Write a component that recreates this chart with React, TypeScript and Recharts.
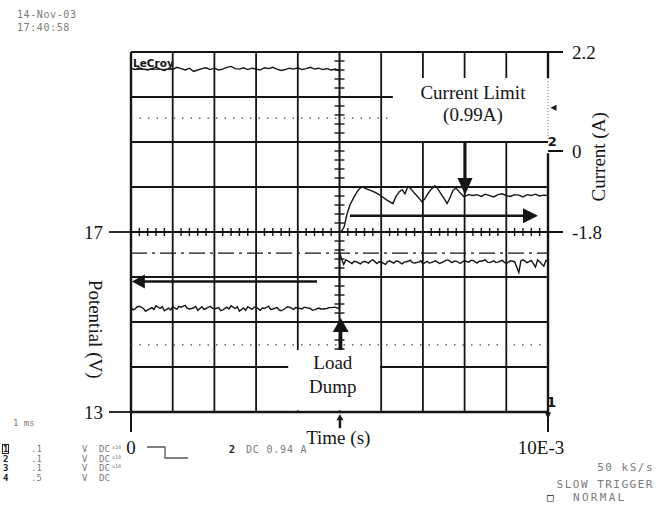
import React from 'react';
import { ComposedChart, Line, XAxis, YAxis, ReferenceLine, ReferenceArea, ReferenceDot } from 'recharts';

// ---- axes / ticks ----
const timeTicks = [0, 10];
const timeTickLabels: Record<number, string> = { 0: '0', 10: '10E-3' };
const voltTicks = [13, 17];
const ampTicks = [2.2, 0, -1.8];
const gridTimes = [1, 2, 3, 4, 6, 7, 8, 9];
const gridVolts = [14, 15, 16, 18, 19, 20];
const minorTimes = [0.2,0.4,0.6,0.8,1.2,1.4,1.6,1.8,2.2,2.4,2.6,2.8,3.2,3.4,3.6,3.8,4.2,4.4,4.6,4.8,5.2,5.4,5.6,5.8,6.2,6.4,6.6,6.8,7.2,7.4,7.6,7.8,8.2,8.4,8.6,8.8,9.2,9.4,9.6,9.8];
const minorVolts = [13.2,13.4,13.6,13.8,14.2,14.4,14.6,14.8,15.2,15.4,15.6,15.8,16.2,16.4,16.6,16.8,17.2,17.4,17.6,17.8,18.2,18.4,18.6,18.8,19.2,19.4,19.6,19.8,20.2,20.4,20.6,20.8];

// ---- traces (time in ms, potential in V, current in A) ----
const upperTrace: [number, number][] = [[0,20.64],[0.1,20.61],[0.2,20.65],[0.3,20.62],[0.4,20.6],[0.5,20.63],[0.6,20.66],[0.7,20.62],[0.8,20.59],[0.9,20.63],[1.0,20.61],[1.1,20.66],[1.2,20.63],[1.3,20.6],[1.4,20.64],[1.5,20.57],[1.6,20.6],[1.7,20.63],[1.8,20.65],[1.9,20.61],[2.0,20.64],[2.1,20.6],[2.2,20.62],[2.3,20.66],[2.4,20.68],[2.5,20.63],[2.6,20.62],[2.7,20.65],[2.8,20.61],[2.9,20.64],[3.0,20.62],[3.1,20.6],[3.2,20.65],[3.3,20.63],[3.4,20.66],[3.5,20.62],[3.6,20.59],[3.7,20.61],[3.8,20.64],[3.9,20.62],[4.0,20.65],[4.1,20.61],[4.2,20.63],[4.3,20.66],[4.4,20.62],[4.5,20.64],[4.6,20.61],[4.7,20.63],[4.8,20.6],[4.9,20.62],[5.0,20.58]];

const voltageBefore: [number, number][] = [[0,15.33],[0.05,15.27],[0.1,15.29],[0.15,15.34],[0.2,15.35],[0.3,15.3],[0.35,15.24],[0.4,15.27],[0.5,15.32],[0.55,15.28],[0.6,15.36],[0.7,15.3],[0.75,15.34],[0.8,15.25],[0.9,15.31],[0.95,15.27],[1.0,15.34],[1.1,15.28],[1.15,15.35],[1.2,15.33],[1.3,15.37],[1.35,15.3],[1.4,15.29],[1.5,15.31],[1.55,15.35],[1.6,15.26],[1.7,15.34],[1.75,15.28],[1.8,15.3],[1.9,15.35],[1.95,15.31],[2.0,15.29],[2.1,15.32],[2.15,15.25],[2.2,15.27],[2.3,15.33],[2.35,15.29],[2.4,15.36],[2.5,15.3],[2.55,15.34],[2.6,15.24],[2.7,15.31],[2.75,15.26],[2.8,15.34],[2.9,15.28],[2.95,15.33],[3.0,15.33],[3.1,15.26],[3.15,15.31],[3.2,15.3],[3.3,15.35],[3.35,15.28],[3.4,15.29],[3.5,15.32],[3.55,15.27],[3.6,15.25],[3.7,15.3],[3.75,15.34],[3.8,15.33],[3.9,15.28],[3.95,15.32],[4.0,15.31],[4.1,15.29],[4.15,15.33],[4.2,15.32],[4.3,15.3],[4.35,15.26],[4.4,15.27],[4.5,15.31],[4.55,15.29],[4.6,15.29],[4.7,15.3],[4.75,15.32],[4.8,15.32],[4.9,15.33],[4.95,15.31],[5.0,15.3]];

const voltageAfter: [number, number][] = [[5.0,16.55],[5.05,16.4],[5.1,16.28],[5.15,16.38],[5.2,16.36],[5.3,16.3],[5.35,16.35],[5.4,16.34],[5.5,16.29],[5.55,16.33],[5.6,16.35],[5.7,16.31],[5.75,16.36],[5.8,16.38],[5.9,16.3],[5.95,16.34],[6.0,16.33],[6.1,16.28],[6.15,16.34],[6.2,16.36],[6.3,16.31],[6.35,16.35],[6.4,16.35],[6.5,16.29],[6.55,16.33],[6.6,16.34],[6.7,16.37],[6.75,16.32],[6.8,16.31],[6.9,16.33],[6.95,16.36],[7.0,16.29],[7.1,16.35],[7.15,16.31],[7.2,16.32],[7.3,16.36],[7.35,16.33],[7.4,16.3],[7.5,16.34],[7.55,16.37],[7.6,16.38],[7.7,16.32],[7.75,16.35],[7.8,16.35],[7.9,16.3],[7.95,16.34],[8.0,16.36],[8.1,16.33],[8.15,16.37],[8.2,16.37],[8.3,16.31],[8.35,16.35],[8.4,16.35],[8.5,16.38],[8.55,16.33],[8.6,16.32],[8.7,16.36],[8.75,16.32],[8.8,16.33],[8.9,16.37],[8.95,16.33],[9.0,16.3],[9.1,16.36],[9.2,16.34],[9.3,16.1],[9.35,16.36],[9.4,16.38],[9.5,16.32],[9.6,16.37],[9.7,16.22],[9.75,16.38],[9.8,16.34],[9.9,16.24],[9.95,16.37],[10,16.35]];

const currentAfter: [number, number][] = [[5.02,-1.82],[5.11,-1.69],[5.18,-1.4],[5.25,-1.2],[5.35,-1.02],[5.44,-0.88],[5.54,-0.79],[5.64,-0.84],[5.76,-0.88],[5.88,-0.93],[6.0,-1.0],[6.12,-1.08],[6.21,-1.13],[6.28,-1.17],[6.35,-1.02],[6.43,-0.91],[6.5,-0.86],[6.57,-0.95],[6.64,-0.79],[6.71,-0.84],[6.79,-0.93],[6.88,-1.02],[6.98,-1.13],[7.05,-1.06],[7.12,-0.95],[7.19,-0.86],[7.29,-0.77],[7.36,-0.84],[7.43,-0.95],[7.51,-1.06],[7.58,-1.17],[7.65,-1.04],[7.72,-0.88],[7.79,-0.82],[7.89,-0.93],[7.99,-1.02],[8.08,-0.97],[8.2,-0.99],[8.3,-0.97],[8.4,-1.01],[8.5,-0.96],[8.6,-0.99],[8.7,-1.02],[8.8,-0.97],[8.9,-0.95],[9.0,-0.99],[9.1,-1.01],[9.2,-0.97],[9.3,-0.98],[9.4,-1.02],[9.5,-0.97],[9.6,-0.99],[9.7,-0.96],[9.8,-1.0],[9.9,-0.98],[10,-0.99]];

// reference levels
const dashDotLevel = 16.53;
const dottedLevels = [19.53, 14.49];

// scope readout texts
const channelIds = ['1', '2', '3', '4'];
const channelScales = ['.1', '.1', '.1', '.5'];
const channelUnits = ['V', 'V', 'V', 'V'];
const channelCouplings = ['DC', 'DC', 'DC', 'DC'];
const channelProbes = ['x10', 'x10', 'x10', ''];

const upperData = upperTrace.map(([t, v]) => ({ t, v }));
const voltageData = [...voltageBefore, ...voltageAfter].map(([t, v]) => ({ t, v }));
const currentData = currentAfter.map(([t, a]) => ({ t, a }));

const INK = '#151515';
const GRID_W = 1.8;
const SERIF = '"Liberation Serif", "Times New Roman", serif';
const PIX: React.CSSProperties = { position: 'absolute', fontFamily: '"DejaVu Sans Mono", monospace', fontSize: 10, color: '#7a7a7a', lineHeight: '10px', whiteSpace: 'pre', letterSpacing: 0.6 };
const ROW: React.CSSProperties = { ...PIX, fontSize: 9, lineHeight: '9px', letterSpacing: 0 };
const ROW_STEP = 9.5;

const textShape = (label: string, opts: { size?: number; rotate?: number; anchor?: string; bold?: boolean; family?: string; dx?: number; underline?: boolean } = {}) =>
  (p: any) => {
    const x = p.cx + (opts.dx || 0);
    const y = p.cy;
    return (
      <text x={x} y={y} textAnchor={(opts.anchor as any) || 'middle'} dominantBaseline="central"
        fontFamily={opts.family || SERIF} fontSize={opts.size || 19} fontWeight={opts.bold ? 700 : 400}
        textDecoration={opts.underline ? 'underline' : undefined}
        fill={INK} transform={opts.rotate ? `rotate(${opts.rotate} ${x} ${y})` : undefined}>{label}</text>
    );
  };

const head = (dir: 'up' | 'down' | 'left' | 'right', len: number, half: number) => (p: any) => {
  const { cx, cy } = p;
  let pts = '';
  if (dir === 'right') pts = `${cx},${cy} ${cx - len},${cy - half} ${cx - len},${cy + half}`;
  if (dir === 'left') pts = `${cx},${cy} ${cx + len},${cy - half} ${cx + len},${cy + half}`;
  if (dir === 'down') pts = `${cx},${cy} ${cx - half},${cy - len} ${cx + half},${cy - len}`;
  if (dir === 'up') pts = `${cx},${cy} ${cx - half},${cy + len} ${cx + half},${cy + len}`;
  return <polygon points={pts} fill={INK} />;
};

const hTick = (p: any) => <line x1={p.cx - 5} x2={p.cx + 5} y1={p.cy} y2={p.cy} stroke={INK} strokeWidth={1.4} />;
const vTick = (p: any) => <line x1={p.cx} x2={p.cx} y1={p.cy - 4} y2={p.cy + 4} stroke={INK} strokeWidth={1.4} />;

const XTick = (p: any) => {
  const v = p.payload.value;
  return (
    <text x={p.x + (v === 10 ? -7 : 0)} y={p.y} dy="0.71em" textAnchor="middle" fontFamily={SERIF} fontSize={19} fill={INK}>
      {timeTickLabels[v]}
    </text>
  );
};

export default function App() {
  return (
    <div style={{ position: 'absolute', left: 0, top: 0, width: 667, height: 505, background: '#fff' }}>
      <ComposedChart width={667} height={505} margin={{ top: 52, right: 59, bottom: 43, left: 81 }}>
        <XAxis dataKey="t" type="number" domain={[0, 10]} ticks={timeTicks} allowDataOverflow
          axisLine={false} tickSize={20} tickMargin={9} height={50}
          tickLine={{ stroke: INK, strokeWidth: 2 }} tick={XTick} />
        <YAxis yAxisId="v" type="number" domain={[13, 21]} ticks={voltTicks} allowDataOverflow
          axisLine={false} tickSize={22} tickMargin={6} width={50}
          tickLine={{ stroke: INK, strokeWidth: 1.8 }} tick={{ fontFamily: SERIF, fontSize: 19, fill: INK }} />
        <YAxis yAxisId="a" orientation="right" type="number" domain={[-5.8, 2.2]} ticks={ampTicks} allowDataOverflow
          axisLine={false} tickSize={15} tickMargin={9} width={60}
          tickLine={{ stroke: INK, strokeWidth: 2 }} tick={{ fontFamily: SERIF, fontSize: 19, fill: INK }} />

        {/* grid */}
        {gridTimes.map((t) => (
          <ReferenceLine key={'gt' + t} yAxisId="v" x={t} stroke={INK} strokeWidth={GRID_W} zIndex={10} />
        ))}
        {gridVolts.map((v) => (
          <ReferenceLine key={'gv' + v} yAxisId="v" y={v} stroke={INK} strokeWidth={GRID_W} zIndex={10} />
        ))}
        <ReferenceLine yAxisId="v" x={0} stroke={INK} strokeWidth={2.4} zIndex={10} />
        <ReferenceLine yAxisId="v" y={21} stroke={INK} strokeWidth={2.2} zIndex={10} />
        <ReferenceLine yAxisId="v" y={13} stroke={INK} strokeWidth={2.4} zIndex={10} />
        <ReferenceLine yAxisId="v" x={5} stroke={INK} strokeWidth={2} zIndex={10} />
        <ReferenceLine yAxisId="v" y={17} stroke={INK} strokeWidth={2} zIndex={10} />
        <ReferenceLine yAxisId="v" ifOverflow="visible" segment={[{ x: 10, y: 21 }, { x: 10, y: 20.42 }]} stroke={INK} strokeWidth={2.4} zIndex={10} />
        <ReferenceLine yAxisId="v" ifOverflow="visible" segment={[{ x: 10, y: 20.42 }, { x: 10, y: 19.02 }]} stroke="#666" strokeWidth={1} strokeDasharray="1 2" zIndex={30} />
        <ReferenceLine yAxisId="v" ifOverflow="visible" segment={[{ x: 10, y: 18.75 }, { x: 10, y: 13 }]} stroke={INK} strokeWidth={2.4} zIndex={10} />
        {minorVolts.map((v) => (
          <ReferenceDot key={'mv' + v} yAxisId="v" x={5} y={v} r={1} shape={hTick} zIndex={11} />
        ))}
        {minorTimes.map((t) => (
          <ReferenceDot key={'mt' + t} yAxisId="v" x={t} y={17} r={1} shape={vTick} zIndex={11} />
        ))}
        {dottedLevels.map((v) => (
          <ReferenceLine key={'dl' + v} yAxisId="v" y={v} stroke="#444" strokeWidth={1.2} strokeDasharray="1.5 7" zIndex={12} />
        ))}
        <ReferenceLine yAxisId="v" y={dashDotLevel} stroke={INK} strokeWidth={1.3} strokeDasharray="16 5 3 5" zIndex={12} />

        {/* annotation boxes */}
        <ReferenceArea yAxisId="v" x1={6.28} x2={10} y1={19.02} y2={20.42} fill="#fff" fillOpacity={1} stroke="none" zIndex={20} />
        <ReferenceArea yAxisId="v" x1={3.77} x2={5.97} y1={13.04} y2={14.38} fill="#fff" fillOpacity={1} stroke="none" zIndex={20} />

        <ReferenceDot yAxisId="v" x={8.2} y={20.09} r={1} ifOverflow="visible" shape={textShape('Current Limit')} zIndex={40} />
        <ReferenceDot yAxisId="v" x={8.2} y={19.62} r={1} ifOverflow="visible" shape={textShape('(0.99A)')} zIndex={40} />
        <ReferenceDot yAxisId="v" x={4.84} y={14.09} r={1} ifOverflow="visible" shape={textShape('Load', { size: 19 })} zIndex={40} />
        <ReferenceDot yAxisId="v" x={4.84} y={13.56} r={1} ifOverflow="visible" shape={textShape('Dump', { size: 19 })} zIndex={40} />
        <ReferenceDot yAxisId="v" x={4.97} y={12.44} r={1} ifOverflow="visible" shape={textShape('Time (s)', { size: 19 })} zIndex={40} />
        <ReferenceDot yAxisId="v" x={-0.86} y={14.84} r={1} ifOverflow="visible" shape={textShape('Potential (V)', { size: 19, rotate: 90 })} zIndex={40} />
        <ReferenceDot yAxisId="v" x={11.2} y={18.67} r={1} ifOverflow="visible" shape={textShape('Current (A)', { size: 19, rotate: -90 })} zIndex={40} />
        <ReferenceDot yAxisId="v" x={0} y={20.76} r={1} ifOverflow="visible" shape={textShape('LeCroy', { size: 10.5, bold: true, anchor: 'start', dx: 2, family: '"DejaVu Sans", sans-serif', underline: true })} zIndex={40} />
        <ReferenceDot yAxisId="v" x={10.1} y={19.02} r={1} ifOverflow="visible" shape={textShape('2', { size: 13, bold: true, family: '"DejaVu Sans", sans-serif' })} zIndex={40} />
        <ReferenceDot yAxisId="v" x={10.08} y={13.22} r={1} ifOverflow="visible" shape={textShape('1', { size: 14, bold: true, family: '"DejaVu Sans", sans-serif' })} zIndex={40} />
        <ReferenceDot yAxisId="v" x={10.06} y={19.76} r={1} ifOverflow="visible" shape={head('left', 6, 3)} zIndex={40} />
        <ReferenceDot yAxisId="v" x={10.0} y={12.84} r={1} ifOverflow="visible" shape={head('down', 7, 3)} zIndex={40} />

        {/* arrows */}
        <ReferenceLine yAxisId="v" segment={[{ x: 5.25, y: 17.36 }, { x: 9.45, y: 17.36 }]} stroke={INK} strokeWidth={2.6} zIndex={40} />
        <ReferenceDot yAxisId="v" x={9.76} y={17.36} r={1} shape={head('right', 15, 7.5)} zIndex={40} />
        <ReferenceLine yAxisId="v" segment={[{ x: 0.25, y: 15.9 }, { x: 4.46, y: 15.9 }]} stroke={INK} strokeWidth={2.6} zIndex={40} />
        <ReferenceDot yAxisId="v" x={0.02} y={15.9} r={1} shape={head('left', 13, 7)} zIndex={40} />
        <ReferenceLine yAxisId="v" segment={[{ x: 8.01, y: 19.0 }, { x: 8.01, y: 18.15 }]} stroke={INK} strokeWidth={3} zIndex={40} />
        <ReferenceDot yAxisId="v" x={8.01} y={17.82} r={1} shape={head('down', 17, 7.5)} zIndex={40} />
        <ReferenceLine yAxisId="v" segment={[{ x: 5.03, y: 14.38 }, { x: 5.03, y: 14.85 }]} stroke={INK} strokeWidth={3.2} zIndex={40} />
        <ReferenceDot yAxisId="v" x={5.03} y={15.09} r={1} shape={head('up', 14, 8)} zIndex={40} />
        <ReferenceLine yAxisId="v" ifOverflow="visible" segment={[{ x: 5.01, y: 12.64 }, { x: 5.01, y: 12.85 }]} stroke={INK} strokeWidth={2.4} zIndex={40} />
        <ReferenceDot yAxisId="v" x={5.01} y={12.95} r={1} ifOverflow="visible" shape={head('up', 6, 3.5)} zIndex={40} />

        {/* traces */}
        <Line yAxisId="v" data={upperData} dataKey="v" type="linear" stroke={INK} strokeWidth={1.4} dot={false} activeDot={false} isAnimationActive={false} zIndex={50} />
        <Line yAxisId="v" data={voltageData} dataKey="v" type="linear" stroke={INK} strokeWidth={1.4} dot={false} activeDot={false} isAnimationActive={false} zIndex={50} />
        <Line yAxisId="a" data={currentData} dataKey="a" type="linear" stroke={INK} strokeWidth={1.4} dot={false} activeDot={false} isAnimationActive={false} zIndex={50} />
      </ComposedChart>

      {/* oscilloscope readout */}
      <div style={{ ...PIX, left: 17, top: 10 }}>14-Nov-03</div>
      <div style={{ ...PIX, left: 17, top: 23 }}>17:40:58</div>
      <div style={{ ...ROW, left: 13, top: 419 }}>1 ms</div>
      {channelIds.map((id, i) => (
        <React.Fragment key={id}>
          <div style={{ ...ROW, left: 3, top: 445 + i * ROW_STEP, color: '#222', fontWeight: 700, lineHeight: '8px', outline: i === 0 ? '1px solid #222' : 'none' }}>{id}</div>
          <div style={{ ...ROW, left: 31, top: 445 + i * ROW_STEP }}>{channelScales[i]}</div>
          <div style={{ ...ROW, left: 82, top: 445 + i * ROW_STEP }}>{channelUnits[i]}</div>
          <div style={{ ...ROW, left: 99, top: 445 + i * ROW_STEP }}>{channelCouplings[i]}</div>
          <div style={{ ...ROW, left: 112, top: 445 + i * ROW_STEP, fontSize: 5, lineHeight: '5px' }}>{channelProbes[i]}</div>
        </React.Fragment>
      ))}
      <svg style={{ position: 'absolute', left: 146, top: 445 }} width={44} height={16}>
        <polyline points="1,2 19,2 19,13 42,13" fill="none" stroke="#555" strokeWidth={1.3} />
      </svg>
      <div style={{ ...PIX, left: 229, top: 445, color: '#222', fontWeight: 700 }}>2</div>
      <div style={{ ...PIX, left: 246, top: 445, letterSpacing: 0.8 }}>DC 0.94 A</div>
      <div style={{ ...PIX, right: 13, top: 463, fontSize: 11, letterSpacing: 1.5 }}>50 kS/s</div>
      <div style={{ ...PIX, right: 13, top: 480, fontSize: 11, letterSpacing: 1.5 }}>SLOW TRIGGER</div>
      <div style={{ ...PIX, left: 547, top: 493, color: '#222', fontSize: 11 }}>□</div>
      <div style={{ ...PIX, left: 573, top: 493, fontSize: 11, letterSpacing: 2.3 }}>NORMAL</div>
    </div>
  );
}
